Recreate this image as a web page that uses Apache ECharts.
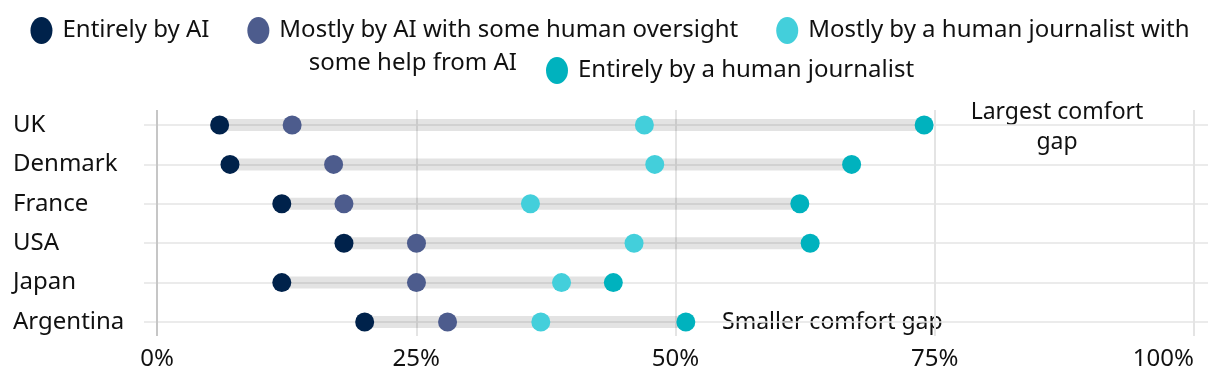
<!DOCTYPE html>
<html>
<head>
<meta charset="utf-8">
<script src="https://cdn.jsdelivr.net/npm/echarts@6/dist/echarts.min.js"></script>
<style>
html,body{margin:0;padding:0;background:#fff;}
#chart{width:1220px;height:390px;}
</style>
</head>
<body>
<div id="chart"></div>
<script>
const categories = ['UK', 'Denmark', 'France', 'USA', 'Japan', 'Argentina'];
const seriesNames = [
  'Entirely by AI',
  'Mostly by AI with some human oversight',
  'Mostly by a human journalist with some help from AI',
  'Entirely by a human journalist'
];
const entirelyAI = [6, 7, 12, 18, 12, 20];
const mostlyAI = [13, 17, 18, 25, 25, 28];
const mostlyHuman = [47, 48, 36, 46, 39, 37];
const entirelyHuman = [74, 67, 62, 63, 44, 51];
const xTicks = [0, 25, 50, 75, 100];

const colors = ['#00224B', '#4D5C8D', '#43CFDB', '#00B2BE'];
const FONT = '"Noto Sans"';
const FS = 23;
const LFS = 24;
const ellipse = 'path://M11,0 A11,13.5 0 1,1 11,27 A11,13.5 0 1,1 11,0 Z';

const chart = echarts.init(document.getElementById('chart'));
const values = [entirelyAI, mostlyAI, mostlyHuman, entirelyHuman];
const rangeLen = entirelyHuman.map((v, i) => v - entirelyAI[i]);

const option = {
  animation: false,
  textStyle: { fontFamily: FONT },
  grid: [
    { left: 157, right: 26, top: 110, height: 226 },
    { left: 144, right: 12, top: 125, height: 197 }
  ],
  xAxis: [
    {
      gridIndex: 0, type: 'value', min: xTicks[0], max: xTicks[xTicks.length - 1], interval: 25,
      axisLine: { show: false }, axisTick: { show: false },
      axisLabel: { formatter: '{value}%', fontSize: LFS, color: '#111', margin: 11, fontFamily: FONT, alignMaxLabel: 'right' },
      splitLine: { show: true, lineStyle: { color: ['#c6c6c6', '#e4e4e4', '#e4e4e4', '#e4e4e4', '#e4e4e4'], width: 2 } }
    },
    { gridIndex: 1, type: 'value', min: -1.3, max: 101.4, show: false }
  ],
  yAxis: [
    { gridIndex: 0, type: 'value', show: false, min: 0, max: 1 },
    {
      gridIndex: 1, type: 'category', data: categories, inverse: true, boundaryGap: false,
      axisLine: { show: false }, axisTick: { show: false },
      axisLabel: { align: 'left', margin: 131, fontSize: LFS, color: '#111', fontFamily: FONT },
      splitLine: { show: true, lineStyle: { color: '#e4e4e4', width: 1.5 } }
    }
  ],
  legend: [
    {
      data: seriesNames.slice(0, 3),
      top: 12, left: 'center',
      icon: ellipse, itemWidth: 22, itemHeight: 27, itemGap: 38,
      formatter: n => n === seriesNames[2] ? 'Mostly by a human journalist with' : n,
      textStyle: { fontSize: LFS, color: '#111', fontFamily: FONT, padding: [0, 0, 0, 5] },
      selectedMode: false
    },
    {
      data: [seriesNames[3]],
      top: 52, left: 541,
      icon: ellipse, itemWidth: 22, itemHeight: 27,
      textStyle: { fontSize: LFS, color: '#111', fontFamily: FONT, padding: [0, 0, 0, 5] },
      selectedMode: false
    }
  ],
  graphic: [
    { type: 'text', right: 1220 - 517, top: 51, style: { text: 'some help from AI', font: LFS + 'px ' + FONT, fill: '#111' } },
    { type: 'text', x: 1057, y: 127, style: { text: 'Largest comfort\ngap', font: FS + 'px ' + FONT, fill: '#111', align: 'center', verticalAlign: 'middle', lineHeight: 30 } },
    { type: 'text', x: 722, y: 322, style: { text: 'Smaller comfort gap', font: FS + 'px ' + FONT, fill: '#111', align: 'left', verticalAlign: 'middle' } }
  ],
  series: [
    {
      type: 'bar', xAxisIndex: 1, yAxisIndex: 1, stack: 'r', data: entirelyAI, barWidth: 12,
      itemStyle: { color: 'rgba(0,0,0,0)' }, silent: true
    },
    {
      type: 'bar', xAxisIndex: 1, yAxisIndex: 1, stack: 'r', data: rangeLen, barWidth: 12,
      itemStyle: { color: 'rgba(0,0,0,0.11)' }, silent: true
    }
  ].concat(seriesNames.map((name, k) => ({
    name: name, type: 'scatter', xAxisIndex: 1, yAxisIndex: 1,
    data: values[k], symbol: 'circle', symbolSize: 19, z: 5,
    itemStyle: { color: colors[k], opacity: 1 }
  })))
};
chart.setOption(option);
</script>
</body>
</html>
